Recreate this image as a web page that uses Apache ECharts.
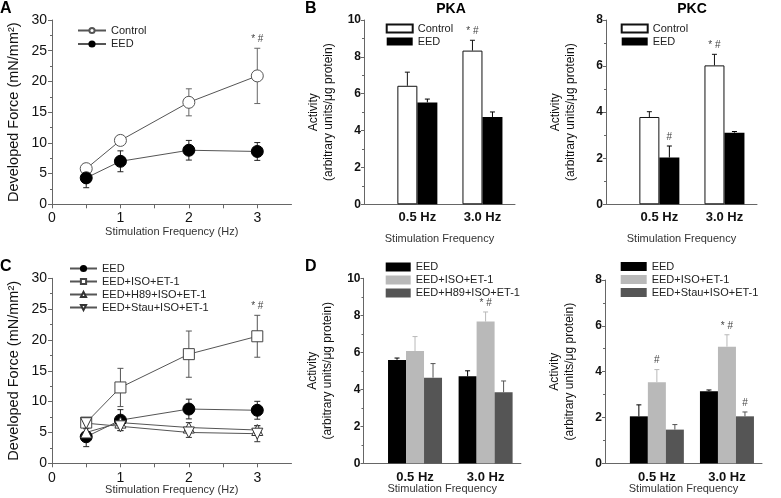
<!DOCTYPE html>
<html><head><meta charset="utf-8">
<script src="https://cdn.jsdelivr.net/npm/echarts@6/dist/echarts.min.js"></script>
<style>html,body{margin:0;padding:0;background:#fff}#c{width:781px;height:498px}</style>
</head><body><div id="c"></div>
<script>
const FONT = 'Liberation Sans, Arial, Helvetica, sans-serif';

// ---------- Panels A & C : developed force (mN/mm²) ----------
const freqHz = [0.5, 1, 2, 3];
const forceXLabels = [0, 1, 2, 3];
const forceXTicks = [0, 0.5, 1, 1.5, 2, 2.5, 3];
const forceControl    = [5.8, 10.4, 16.6, 20.9];
const forceControlErr = [0.7, 0.8, 2.2, 4.5];
const forceEED        = [4.3, 7.0, 8.8, 8.6];
const forceEEDErr     = [1.6, 1.7, 1.6, 1.45];
const forceIsoEt      = [6.6, 12.3, 17.7, 20.6];
const forceIsoEtErr   = [0.8, 3.1, 3.75, 3.4];
const forceH89        = [5.0, 6.6, 5.8, 5.4];
const forceH89Err     = [0.6, 0.7, 0.8, 0.7];
const forceStau       = [6.5, 6.0, 5.0, 4.8];
const forceStauErr    = [0.8, 0.7, 0.8, 1.3];
const sigForceControl = ['', '', '', '* #'];
const sigForceIsoEt   = ['', '', '', '* #'];

// ---------- Panels B & D : kinase activity ----------
const barCategories = ['0.5 Hz', '3.0 Hz'];
const barSlots = [1, 2];
// B - PKA
const pkaControl = [6.43, 8.34], pkaControlErr = [0.74, 0.56];
const pkaEED     = [5.53, 4.74], pkaEEDErr     = [0.18, 0.27];
const sigPkaControl = ['', '* #'], sigPkaEED = ['', ''];
// B - PKC
const pkcControl = [3.79, 6.03], pkcControlErr = [0.23, 0.48];
const pkcEED     = [2.03, 3.11], pkcEEDErr     = [0.50, 0.05];
const sigPkcControl = ['', '* #'], sigPkcEED = ['#', ''];
// D - PKA
const dPkaEED = [5.59, 4.70], dPkaEEDErr = [0.10, 0.30];
const dPkaIso = [6.07, 7.66], dPkaIsoErr = [0.78, 0.52];
const dPkaH89 = [4.63, 3.84], dPkaH89Err = [0.76, 0.61];
const sigDPkaIso = ['', '* #'];
// D - PKC
const dPkcEED  = [2.05, 3.15], dPkcEEDErr  = [0.50, 0.05];
const dPkcIso  = [3.54, 5.09], dPkcIsoErr  = [0.55, 0.52];
const dPkcStau = [1.47, 2.05], dPkcStauErr = [0.22, 0.19];
const sigDPkcIso = ['#', '* #'], sigDPkcStau = ['', '#'];

// ---------- helpers ----------
const axisColor = '#666';
const downTriangle = 'path://M0,0L10,0L5,9Z';

function errBars(gi, xs, vals, errs, o) {
  return {
    type: 'custom', xAxisIndex: gi, yAxisIndex: gi, silent: true, z: o.z || 2, clip: false,
    data: xs.map((x, i) => [x, vals[i], errs[i]]),
    encode: { x: 0, y: 1 },
    renderItem(params, api) {
      const x = api.value(0), v = api.value(1), e = api.value(2);
      const top = api.coord([x, v + e]);
      const bot = api.coord([x, o.both ? v - e : v]);
      const cx = top[0] + (o.offset || 0);
      const st = { stroke: o.color, lineWidth: 1 };
      const ch = [
        { type: 'line', shape: { x1: cx, y1: bot[1], x2: cx, y2: top[1] }, style: st },
        { type: 'line', shape: { x1: cx - o.cap, y1: top[1], x2: cx + o.cap, y2: top[1] }, style: st }
      ];
      if (o.both) ch.push({ type: 'line', shape: { x1: cx - o.cap, y1: bot[1], x2: cx + o.cap, y2: bot[1] }, style: st });
      const m = o.marks && o.marks[params.dataIndex];
      if (m) ch.push({ type: 'text', x: cx, y: top[1] - 9,
        style: { text: m, align: 'center', verticalAlign: 'middle', fontSize: 10, fill: '#444', fontFamily: FONT } });
      return { type: 'group', children: ch };
    }
  };
}

const series = [];
function lineSeries(gi, key, vals, errs, sym, size, fill, stroke, errColor, marks) {
  series.push({
    type: 'line', name: key, xAxisIndex: gi, yAxisIndex: gi, silent: true, z: 3,
    data: freqHz.map((x, i) => [x, vals[i]]),
    symbol: sym, symbolSize: size, showAllSymbol: true,
    lineStyle: { color: '#555', width: 1 },
    itemStyle: { color: fill, borderColor: stroke, borderWidth: 1 }
  });
  series.push(errBars(gi, freqHz, vals, errs, { both: true, cap: 3, color: errColor, marks, z: 2 }));
}
function barGroup(gi, defs, barW) {
  const n = defs.length;
  defs.forEach((d, i) => {
    series.push({
      type: 'bar', name: d.key, xAxisIndex: gi, yAxisIndex: gi, silent: true, z: 2,
      data: barSlots.map((x, j) => [x, d.vals[j]]),
      barWidth: barW, barGap: '0%',
      itemStyle: { color: d.color, borderColor: d.border || d.color, borderWidth: d.border ? 1 : 0 }
    });
    series.push(errBars(gi, barSlots, d.vals, d.errs,
      { both: false, cap: 2.5, color: d.errColor || d.color, marks: d.marks, offset: (i - (n - 1) / 2) * barW, z: 3 }));
  });
}

// Panel A
lineSeries(0, 'A|Control', forceControl, forceControlErr, 'circle', 12, '#fff', '#555', '#666', sigForceControl);
lineSeries(0, 'A|EED', forceEED, forceEEDErr, 'circle', 12, '#000', '#000', '#222', null);
// Panel C
lineSeries(3, 'C|EED', forceEED, forceEEDErr, 'circle', 12, '#000', '#000', '#222', null);
lineSeries(3, 'C|EED+ISO+ET-1', forceIsoEt, forceIsoEtErr, 'rect', 11, '#fff', '#444', '#555', sigForceIsoEt);
lineSeries(3, 'C|EED+H89+ISO+ET-1', forceH89, forceH89Err, 'triangle', 11, '#fff', '#333', '#333', null);
lineSeries(3, 'C|EED+Stau+ISO+ET-1', forceStau, forceStauErr, downTriangle, 11, '#fff', '#333', '#333', null);
// Panel B
barGroup(1, [
  { key: 'PKA|Control', vals: pkaControl, errs: pkaControlErr, color: '#fff', border: '#111', errColor: '#111', marks: sigPkaControl },
  { key: 'PKA|EED', vals: pkaEED, errs: pkaEEDErr, color: '#000', marks: sigPkaEED }
], 20);
barGroup(2, [
  { key: 'PKC|Control', vals: pkcControl, errs: pkcControlErr, color: '#fff', border: '#111', errColor: '#111', marks: sigPkcControl },
  { key: 'PKC|EED', vals: pkcEED, errs: pkcEEDErr, color: '#000', marks: sigPkcEED }
], 20);
// Panel D
barGroup(4, [
  { key: 'DPKA|EED', vals: dPkaEED, errs: dPkaEEDErr, color: '#000' },
  { key: 'DPKA|EED+ISO+ET-1', vals: dPkaIso, errs: dPkaIsoErr, color: '#b9b9b9', marks: sigDPkaIso },
  { key: 'DPKA|EED+H89+ISO+ET-1', vals: dPkaH89, errs: dPkaH89Err, color: '#555' }
], 18);
barGroup(5, [
  { key: 'DPKC|EED', vals: dPkcEED, errs: dPkcEEDErr, color: '#000' },
  { key: 'DPKC|EED+ISO+ET-1', vals: dPkcIso, errs: dPkcIsoErr, color: '#b9b9b9', marks: sigDPkcIso },
  { key: 'DPKC|EED+Stau+ISO+ET-1', vals: dPkcStau, errs: dPkcStauErr, color: '#555', marks: sigDPkcStau }
], 18);

const grids = [
  { left: 52, top: 20, width: 239.5, height: 184.3 },
  { left: 364, top: 20, width: 151, height: 184.3 },
  { left: 606, top: 20, width: 151, height: 184.3 },
  { left: 52, top: 278.3, width: 239.5, height: 185 },
  { left: 363.5, top: 278.3, width: 157.4, height: 185 },
  { left: 605, top: 280, width: 157, height: 183.3 }
].map(g => Object.assign({ outerBoundsMode: 'none' }, g));

const lineStyleAx = { color: axisColor, width: 1 };
function forceX(gi, nameGap, margin) {
  return { type: 'value', gridIndex: gi, min: 0, max: 3.5,
    name: 'Stimulation Frequency (Hz)', nameLocation: 'middle', nameGap, nameMoveOverlap: false,
    nameTextStyle: { fontSize: 11, color: '#333', fontFamily: FONT },
    axisLine: { show: true, onZero: false, lineStyle: lineStyleAx },
    axisTick: { show: true, customValues: forceXTicks, length: 4, lineStyle: lineStyleAx },
    axisLabel: { customValues: forceXLabels, fontSize: 14, margin, color: '#111', fontFamily: FONT },
    splitLine: { show: false } };
}
function forceY(gi) {
  return { type: 'value', gridIndex: gi, min: 0, max: 30, interval: 5,
    name: 'Developed Force (mN/mm²)', nameLocation: 'middle', nameGap: 31, nameMoveOverlap: false,
    nameTextStyle: { fontSize: 14.5, color: '#111', fontFamily: FONT },
    axisLine: { show: true, lineStyle: lineStyleAx },
    axisTick: { show: true, length: 4, lineStyle: lineStyleAx },
    minorTick: { show: true, splitNumber: 2, length: 2, lineStyle: lineStyleAx },
    axisLabel: { fontSize: 14, margin: 5, color: '#111', fontFamily: FONT },
    splitLine: { show: false }, minorSplitLine: { show: false } };
}
function barX(gi, min, max, nameGap, margin) {
  return { type: 'value', gridIndex: gi, min, max,
    name: 'Stimulation Frequency', nameLocation: 'middle', nameGap, nameMoveOverlap: false,
    nameTextStyle: { fontSize: 11, color: '#333', fontFamily: FONT },
    axisLine: { show: true, onZero: false, lineStyle: lineStyleAx },
    axisTick: { show: false },
    axisLabel: { customValues: barSlots, formatter: v => barCategories[barSlots.indexOf(v)] || '',
      fontSize: 13, fontWeight: 'bold', margin, color: '#111', fontFamily: FONT },
    splitLine: { show: false } };
}
function actY(gi, max) {
  return { type: 'value', gridIndex: gi, min: 0, max, interval: 2,
    name: 'Activity\n(arbitrary units/μg protein)', nameLocation: 'middle', nameGap: 28, nameMoveOverlap: false,
    nameTextStyle: { fontSize: 12, lineHeight: 15, color: '#111', fontFamily: FONT },
    axisLine: { show: true, lineStyle: lineStyleAx },
    axisTick: { show: true, length: 3, lineStyle: lineStyleAx },
    minorTick: { show: true, splitNumber: 2, length: 2, lineStyle: lineStyleAx },
    axisLabel: { fontSize: 12, fontWeight: 'bold', margin: 3, color: '#111', fontFamily: FONT },
    splitLine: { show: false }, minorSplitLine: { show: false } };
}

const xAxis = [forceX(0, 22, 7), barX(1, 0.18, 2.5, 29, 7), barX(2, 0.18, 2.5, 29, 7),
               forceX(3, 21, 8), barX(4, 0.27, 2.5, 20, 8), barX(5, 0.26, 2.5, 20, 8)];
const yAxis = [forceY(0), actY(1, 10), actY(2, 8), forceY(3), actY(4, 10), actY(5, 8)];

const fmt = n => n.split('|')[1];
function legend(left, top, names, w, h, gap, icon) {
  const l = { left, top, orient: 'vertical', itemWidth: w, itemHeight: h, itemGap: gap,
    data: names, formatter: fmt, selectedMode: false,
    textStyle: { fontSize: 11, color: '#222', fontFamily: FONT } };
  if (icon) l.icon = icon;
  return l;
}
const legends = [
  legend(72, 20, ['A|Control', 'A|EED'], 28, 6.5, 2.5),
  legend(64, 258, ['C|EED', 'C|EED+ISO+ET-1', 'C|EED+H89+ISO+ET-1', 'C|EED+Stau+ISO+ET-1'], 27, 6.5, 2),
  legend(380.7, 18, ['PKA|Control', 'PKA|EED'], 26, 8, 2, 'rect'),
  legend(615.7, 18, ['PKC|Control', 'PKC|EED'], 26, 8, 2, 'rect'),
  legend(380.7, 256.5, ['DPKA|EED', 'DPKA|EED+ISO+ET-1', 'DPKA|EED+H89+ISO+ET-1'], 25, 9, 2, 'rect'),
  legend(615.7, 256, ['DPKC|EED', 'DPKC|EED+ISO+ET-1', 'DPKC|EED+Stau+ISO+ET-1'], 26, 9, 2, 'rect')
];

function label(text, x, y, size, align) {
  return { type: 'text', x, y, silent: true,
    style: { text, fontSize: size, fontWeight: 'bold', fill: '#000', fontFamily: FONT,
      align: align || 'left', verticalAlign: 'middle' } };
}
const graphics = [
  label('A', 0, 9, 16), label('B', 305, 9, 16), label('C', 0, 267, 16), label('D', 305, 266.5, 16),
  label('PKA', 451, 9.5, 14, 'center'), label('PKC', 692, 9.5, 14, 'center')
];

const chart = echarts.init(document.getElementById('c'), null, { renderer: 'canvas' });
chart.setOption({
  animation: false,
  backgroundColor: '#fff',
  textStyle: { fontFamily: FONT },
  grid: grids, xAxis, yAxis, legend: legends, series, graphic: graphics
});
</script></body></html>
